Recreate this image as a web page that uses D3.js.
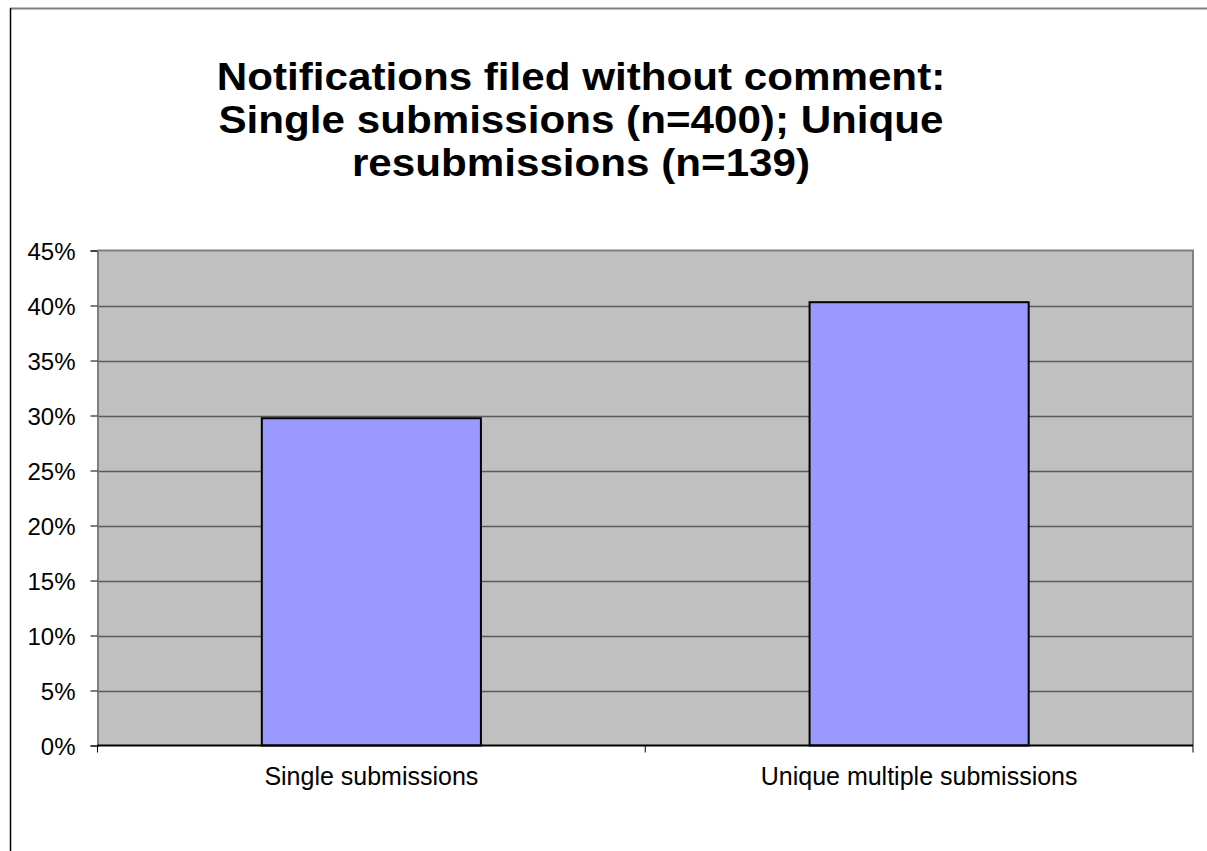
<!DOCTYPE html>
<html>
<head>
<meta charset="utf-8">
<script src="https://cdn.jsdelivr.net/npm/d3@7"></script>
<style>
  html, body { margin: 0; padding: 0; background: #fff; }
  svg { display: block; }
</style>
</head>
<body>
<svg id="chart" width="1207" height="851"></svg>
<script>
const titleLines = ["Notifications filed without comment:", "Single submissions (n=400); Unique", "resubmissions (n=139)"];
const categories = ["Single submissions", "Unique multiple submissions"];
const values = [0.2975, 0.403];
const yTicks = [0, 0.05, 0.10, 0.15, 0.20, 0.25, 0.30, 0.35, 0.40, 0.45];

const svg = d3.select("#chart");
const W = 1207, H = 851;
const plot = { left: 97.5, right: 1193, top: 250.5, bottom: 745.5 };

// outer frame
svg.append("line").attr("x1", 10).attr("x2", W).attr("y1", 8.5).attr("y2", 8.5)
  .attr("stroke", "#808080").attr("stroke-width", 2);
svg.append("line").attr("x1", 10.5).attr("x2", 10.5).attr("y1", 8).attr("y2", H)
  .attr("stroke", "#000").attr("stroke-width", 1.5);

const x = d3.scaleBand().domain(categories).range([plot.left, plot.right])
  .paddingInner(0.6).paddingOuter(0.3);
const y = d3.scaleLinear().domain([0, 0.45]).range([plot.bottom, plot.top]);

// plot background
svg.append("rect").attr("x", plot.left).attr("y", plot.top)
  .attr("width", plot.right - plot.left).attr("height", plot.bottom - plot.top)
  .attr("fill", "#C0C0C0");

// gridlines
svg.append("g").selectAll("line").data(yTicks.filter(d => d > 0 && d < 0.45)).join("line")
  .attr("x1", plot.left).attr("x2", plot.right)
  .attr("y1", d => Math.round(y(d)) + 0.5).attr("y2", d => Math.round(y(d)) + 0.5)
  .attr("stroke", "#5a5a5a").attr("stroke-width", 1.5);

// plot border top/right
svg.append("path")
  .attr("d", `M${plot.left},${plot.top} H${plot.right} V${plot.bottom}`)
  .attr("fill", "none").attr("stroke", "#808080").attr("stroke-width", 2);

// bars
svg.append("g").selectAll("rect").data(values).join("rect")
  .attr("x", (d, i) => x(categories[i]))
  .attr("y", d => y(d))
  .attr("width", x.bandwidth())
  .attr("height", d => y(0) - y(d))
  .attr("fill", "#9999FF")
  .attr("stroke", "#000").attr("stroke-width", 2);

// y axis
const yAxis = svg.append("g").attr("transform", `translate(${plot.left},0)`)
  .call(d3.axisLeft(y).tickValues(yTicks).tickFormat(d3.format(".0%")).tickSize(7).tickPadding(15));
yAxis.select(".domain").attr("stroke", "#808080").attr("stroke-width", 2);
yAxis.selectAll(".tick line").attr("stroke", "#000").attr("stroke-width", 1);
yAxis.selectAll(".tick text")
  .attr("font-family", "Liberation Sans, Arial, sans-serif")
  .attr("font-size", 24).attr("fill", "#000")
  .attr("dy", "0.36em");

// x axis
const boundaries = [plot.left, (plot.left + plot.right) / 2, plot.right];
svg.append("line").attr("x1", plot.left).attr("x2", plot.right)
  .attr("y1", plot.bottom).attr("y2", plot.bottom)
  .attr("stroke", "#000").attr("stroke-width", 2);
svg.append("g").selectAll("line").data(boundaries).join("line")
  .attr("x1", d => d).attr("x2", d => d)
  .attr("y1", plot.bottom).attr("y2", plot.bottom + 7)
  .attr("stroke", "#000").attr("stroke-width", 1);
svg.append("g").selectAll("text").data(categories).join("text")
  .attr("x", d => x(d) + x.bandwidth() / 2)
  .attr("y", 785)
  .attr("text-anchor", "middle")
  .attr("font-family", "Liberation Sans, Arial, sans-serif")
  .attr("font-size", 25).attr("fill", "#000")
  .text(d => d);

// title
const tcx = 581;
const tg = svg.append("g").attr("transform", `translate(${tcx},0) scale(1.11,1)`);
tg.selectAll("text").data(titleLines).join("text")
  .attr("x", 0)
  .attr("y", (d, i) => 90.5 + i * 43)
  .attr("text-anchor", "middle")
  .attr("font-family", "Liberation Sans, Arial, sans-serif")
  .attr("font-weight", "bold")
  .attr("font-size", 38).attr("fill", "#000")
  .text(d => d);
</script>
</body>
</html>
